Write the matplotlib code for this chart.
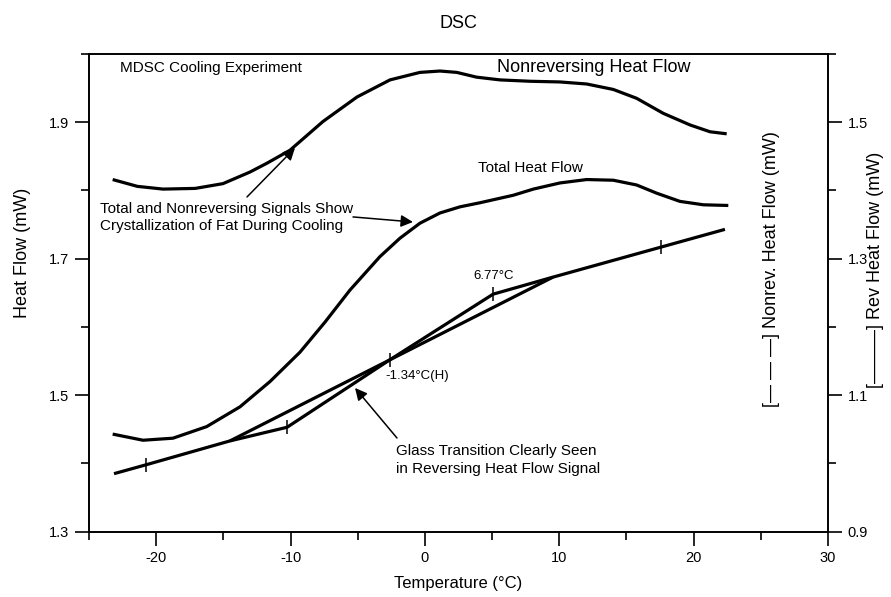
import matplotlib
matplotlib.use("Agg")
from matplotlib import pyplot as plt
from matplotlib.ticker import MultipleLocator

plt.rcParams['font.family'] = ['Liberation Sans', 'DejaVu Sans']
plt.rcParams['axes.unicode_minus'] = False

# temperatures (C) and heat flows
# nonreversing heat flow, right axis units (mW)
nonrev_t = [-23.24, -21.40, -19.49, -17.10, -15.03, -13.02, -11.75, -10.04, -7.59,
            -5.05, -2.60, -0.37, 1.12, 2.37, 3.85, 5.59, 7.82, 10.05, 12.04,
            14.02, 15.76, 17.74, 19.73, 21.22, 22.46]
nonrev_hf = [1.416, 1.406, 1.402, 1.403, 1.410, 1.427, 1.440, 1.459, 1.501,
             1.537, 1.562, 1.573, 1.575, 1.573, 1.566, 1.562, 1.560, 1.559, 1.556,
             1.548, 1.535, 1.513, 1.496, 1.486, 1.483]

# total heat flow, left axis units (mW)
total_t = [-23.24, -20.98, -18.75, -16.24, -13.76, -11.53, -9.30, -7.44, -5.58,
           -3.35, -1.86, -0.37, 1.12, 2.61, 4.10, 6.58, 8.07, 10.05, 12.04,
           14.02, 15.76, 17.25, 18.98, 20.72, 22.58]
total_hf = [1.443, 1.434, 1.437, 1.454, 1.483, 1.520, 1.563, 1.607, 1.654,
            1.703, 1.730, 1.752, 1.767, 1.776, 1.782, 1.793, 1.802, 1.811, 1.816,
            1.815, 1.808, 1.796, 1.784, 1.779, 1.778]

# reversing heat flow, right axis units (mW)
rev_t = [-23.14, -20.76, -14.51, -10.26, -2.60, 5.07, 9.53, 17.57, 22.33]
rev_hf = [0.985, 0.998, 1.033, 1.053, 1.152, 1.248, 1.273, 1.317, 1.343]

# straight construction line across the transition
base_t = [-14.51, 9.53]
base_hf = [1.033, 1.273]

# positions of the analysis tick marks on the reversing curve
mark_t = [-20.76, -10.26, -2.60, 5.07, 17.57]
mark_hf = [0.998, 1.053, 1.152, 1.248, 1.317]

fig = plt.figure(figsize=(8.91, 5.97), dpi=100)
ax = fig.add_axes([0.0999, 0.1094, 0.8294, 0.8002])
ax2 = ax.twinx()

lw = 2.3
ax.plot(total_t, total_hf, color='black', lw=lw, solid_capstyle='butt')
ax2.plot(nonrev_t, nonrev_hf, color='black', lw=lw, solid_capstyle='butt')
ax2.plot(rev_t, rev_hf, color='black', lw=lw, solid_capstyle='butt')
ax2.plot(base_t, base_hf, color='black', lw=lw, solid_capstyle='butt')
ax2.plot(mark_t, mark_hf, ls='none', marker='|', ms=10, mew=1.1, color='black')

ax.set_xlim(-25, 30)
ax.set_ylim(1.3, 2.0)
ax2.set_ylim(0.9, 1.6)

ax.xaxis.set_major_locator(MultipleLocator(10))
ax.xaxis.set_minor_locator(MultipleLocator(5))
ax.set_yticks([1.3, 1.5, 1.7, 1.9])
ax.set_yticks([1.4, 1.6, 1.8, 2.0], minor=True)
ax2.set_yticks([0.9, 1.1, 1.3, 1.5])
ax2.set_yticks([1.0, 1.2, 1.4, 1.6], minor=True)
ax.set_yticklabels(['1.3', '1.5', '1.7', '1.9'])
ax2.set_yticklabels(['0.9', '1.1', '1.3', '1.5'])

for a in (ax, ax2):
    for s in a.spines.values():
        s.set_linewidth(1.2)
    a.tick_params(which='major', direction='out', length=10, width=1.2, labelsize=10.5, pad=4)
    a.tick_params(which='minor', direction='out', length=6, width=1.2)
ax.tick_params(axis='x', top=False)

ax.set_title('DSC', fontsize=13, pad=19)
ax.set_xlabel('Temperature (°C)', fontsize=12, labelpad=8)

fig.text(0.025, 0.576, 'Heat Flow (mW)', rotation=90,
         ha='center', va='center', fontsize=13)
fig.text(0.8664, 0.549, '[— — —] Nonrev. Heat Flow (mW)', rotation=90,
         ha='center', va='center', fontsize=13)
fig.text(0.983, 0.548, '[———] Rev Heat Flow (mW)', rotation=90,
         ha='center', va='center', fontsize=13)

ax.text(-22.69, 1.9795, 'MDSC Cooling Experiment', fontsize=11, va='center')
ax.text(5.36, 1.9795, 'Nonreversing Heat Flow', fontsize=13, va='center')
ax.text(3.95, 1.833, 'Total Heat Flow', fontsize=11, va='center')
ax.text(-24.18, 1.7604, 'Total and Nonreversing Signals Show\nCrystallization of Fat During Cooling',
        fontsize=11, va='center', linespacing=1.3)
ax.text(-2.15, 1.405, 'Glass Transition Clearly Seen\nin Reversing Heat Flow Signal',
        fontsize=11, va='center', linespacing=1.3)
ax.text(-2.97, 1.528, '-1.34°C(H)', fontsize=9.5, va='center')
ax.text(3.58, 1.6747, '6.77°C', fontsize=9.5, va='center')

arrow = dict(arrowstyle='-|>', mutation_scale=18, lw=1.1, color='black',
             shrinkA=0, shrinkB=0)
ax.annotate('', xy=(-9.67, 1.8623), xytext=(-13.24, 1.7905), arrowprops=arrow)
ax.annotate('', xy=(-0.89, 1.7538), xytext=(-5.35, 1.7612), arrowprops=arrow)
ax.annotate('', xy=(-5.20, 1.5106), xytext=(-2.08, 1.4373), arrowprops=arrow)

fig.savefig('out.png', dpi=100)
